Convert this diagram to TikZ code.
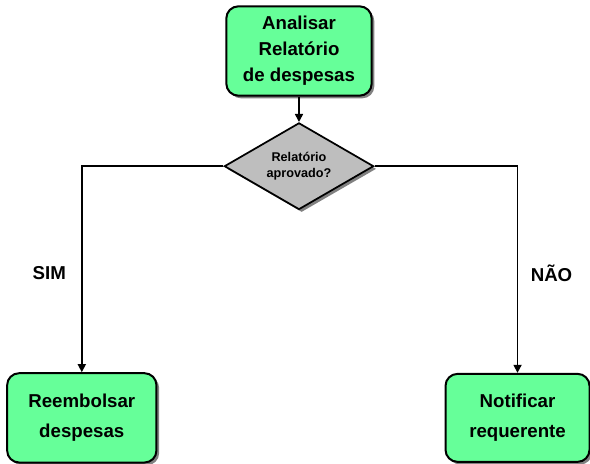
\documentclass[tikz,border=0pt]{standalone}
\usepackage{fontspec}
\setmainfont{Liberation Sans}
\usepackage{tikz}
\usetikzlibrary{shapes.geometric, positioning, arrows.meta, shadows}

\definecolor{boxgreen}{RGB}{102,255,153}
\definecolor{decgray}{RGB}{190,190,190}

\begin{document}
\begin{tikzpicture}[
        % Define block styles
        process/.style={draw, rectangle, rounded corners=9pt, line width=1.5pt, fill=boxgreen,
            minimum width=109pt, minimum height=67pt, align=center, font=\bfseries\fontsize{14}{19.5}\selectfont,
            drop shadow={shadow xshift=2pt, shadow yshift=-2pt, fill=black!70, opacity=0.7}},
        decision/.style={draw, diamond, aspect=1.7, line width=1.3pt, fill=decgray, minimum width=112pt, minimum height=65pt,
            inner sep=0pt, align=center, font=\bfseries\fontsize{9.5}{12}\selectfont,
            drop shadow={shadow xshift=2pt, shadow yshift=-2pt, fill=black!70, opacity=0.7}},
        answer/.style={font=\bfseries\fontsize{14}{17}\selectfont},
        arrow/.style={draw, line width=1.2pt, -{Triangle[width=6pt, length=6pt]}}
    ]

    \useasboundingbox (-224.25pt,38.25pt) rectangle (218.25pt,-309.75pt);

    % --- Nodes Placement ---
    \node[process] (analisar) at (0,0) {Analisar\\Relatório\\de despesas};

    \node[decision, below=19pt of analisar] (aprovado) {Relatório\\aprovado?};

    % Branches below the decision
    \node[process, minimum width=112pt, font=\bfseries\fontsize{14}{22.5}\selectfont, anchor=north east,
        below left=154.5pt and 49.5pt of aprovado.west] (reembolsar) {Reembolsar\\despesas};
    \node[process, minimum width=108pt, minimum height=66pt, font=\bfseries\fontsize{14}{22.5}\selectfont, anchor=north west,
        below right=155pt and 52.5pt of aprovado.east] (notificar) {Notificar\\requerente};

    % --- Connections / Arrows ---
    \draw[arrow] (analisar) -- (aprovado);
    \draw[arrow] (aprovado.west) -| node[answer, left=8pt, pos=0.76] {SIM} (reembolsar.north);
    \draw[arrow] (aprovado.east) -| node[answer, right=6pt, pos=0.76] {NÃO} (notificar.north);

\end{tikzpicture}
\end{document}
